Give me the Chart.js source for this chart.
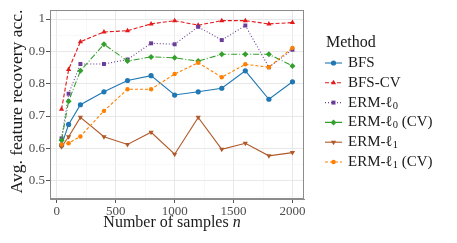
<!DOCTYPE html>
<html>
<head>
<meta charset="utf-8">
<script src="https://cdn.jsdelivr.net/npm/chart.js@4.4.1/dist/chart.umd.min.js"></script>
<style>
html,body{margin:0;padding:0;background:#fff;}
#wrap{width:457px;height:243px;position:relative;}
</style>
</head>
<body>
<div id="wrap"><canvas id="c" width="457" height="243"></canvas></div>
<script>
const sampleSizes = [40, 100, 200, 400, 600, 800, 1000, 1200, 1400, 1600, 1800, 2000];
const bfs      = [0.610, 0.674, 0.735, 0.775, 0.810, 0.825, 0.765, 0.775, 0.786, 0.840, 0.752, 0.806];
const bfsCV    = [0.721, 0.844, 0.930, 0.960, 0.964, 0.985, 0.995, 0.981, 0.995, 0.995, 0.985, 0.989];
const erm0     = [0.631, 0.769, 0.861, 0.861, 0.875, 0.925, 0.922, 0.976, 0.935, 0.980, 0.851, 0.905];
const erm0CV   = [0.625, 0.746, 0.840, 0.922, 0.870, 0.883, 0.880, 0.870, 0.891, 0.891, 0.891, 0.855];
const erm1     = [0.605, 0.636, 0.696, 0.636, 0.612, 0.650, 0.582, 0.696, 0.597, 0.616, 0.577, 0.587];
const erm1CV   = [0.612, 0.616, 0.637, 0.716, 0.783, 0.783, 0.830, 0.865, 0.820, 0.860, 0.851, 0.911];
const seriesNames = ['BFS', 'BFS-CV', 'ERM-ℓ0', 'ERM-ℓ0 (CV)', 'ERM-ℓ1', 'ERM-ℓ1 (CV)'];
const legendTitle = 'Method';
const xTitle = 'Number of samples';
const xTitleVar = 'n';
const yTitle = 'Avg. feature recovery acc.';
const yMajorTicks = [0.5, 0.6, 0.7, 0.8, 0.9, 1.0];
const yMinorTicks = [0.45, 0.55, 0.65, 0.75, 0.85, 0.95];
const xMajorTicks = [0, 500, 1000, 1500, 2000];
const xMinorTicks = [250, 750, 1250, 1750];

const seriesValues = [bfs, bfsCV, erm0, erm0CV, erm1, erm1CV];
const styles = [
  {color:'#1f78b4', dash:[], point:'circle', radius:2.6, rot:0},
  {color:'#e31a1c', dash:[4,2], point:'triangle', radius:3, rot:0},
  {color:'#6a3d9a', dash:[1,2], point:'rect', radius:2.8, rot:0},
  {color:'#33a02c', dash:[6,2,1,2], point:'rectRot', radius:3, rot:0},
  {color:'#b15928', dash:[], point:'triangle', radius:3, rot:180},
  {color:'#ff7f00', dash:[3,2], point:'circle', radius:2.2, rot:0}
];
const SERIF = '"Liberation Serif", "DejaVu Serif", serif';

const datasets = seriesValues.map((vals, i) => ({
  label: seriesNames[i],
  data: sampleSizes.map((n, j) => ({x: n, y: vals[j]})),
  borderColor: styles[i].color,
  backgroundColor: styles[i].color,
  borderWidth: 1.1,
  borderDash: styles[i].dash,
  pointStyle: styles[i].point,
  pointRadius: styles[i].radius,
  pointRotation: styles[i].rot,
  pointBorderWidth: 0,
  pointHoverRadius: styles[i].radius,
  tension: 0,
  order: seriesValues.length - i
}));

function isMinor(list, v){ return list.some(m => Math.abs(m - v) < 1e-9); }

function drawLabel(ctx, text, x, y, size){
  ctx.textBaseline = 'middle';
  ctx.textAlign = 'left';
  let cx = x;
  const parts = [];
  const m = text.match(/^(.*ℓ)(\d)(.*)$/);
  if (m){ parts.push([m[1], false]); parts.push([m[2], true]); parts.push([m[3], false]); }
  else parts.push([text, false]);
  for (const [t, sub] of parts){
    if (!t) continue;
    ctx.font = (sub ? size*0.7 : size) + 'px ' + SERIF;
    ctx.fillText(t, cx, sub ? y + size*0.22 : y);
    cx += ctx.measureText(t).width;
  }
}

const decor = {
  id: 'decor',
  afterDraw(chart){
    const ctx = chart.ctx;
    const a = chart.chartArea;
    ctx.save();
    ctx.strokeStyle = '#8c8c8c';
    ctx.lineWidth = 1;
    ctx.setLineDash([]);
    ctx.strokeRect(a.left + 0.5, a.top + 0.5, a.right - a.left - 1, a.bottom - a.top - 1);
    // x title
    ctx.fillStyle = '#1a1a1a';
    ctx.textBaseline = 'alphabetic';
    const fs = 16;
    ctx.font = fs + 'px ' + SERIF;
    const w1 = ctx.measureText(xTitle + ' ').width;
    ctx.font = 'italic ' + fs + 'px ' + SERIF;
    const w2 = ctx.measureText(xTitleVar).width;
    const cxm = (a.left + a.right) / 2 - 5;
    let sx = cxm - (w1 + w2) / 2;
    ctx.textAlign = 'left';
    ctx.font = fs + 'px ' + SERIF;
    ctx.fillText(xTitle + ' ', sx, 227);
    ctx.font = 'italic ' + fs + 'px ' + SERIF;
    ctx.fillText(xTitleVar, sx + w1, 227);
    // y title
    ctx.save();
    ctx.translate(22, (a.top + a.bottom) / 2 - 3);
    ctx.rotate(-Math.PI / 2);
    ctx.textAlign = 'center';
    ctx.font = '17.5px ' + SERIF;
    ctx.fillText(yTitle, 0, 0);
    ctx.restore();
    // legend
    ctx.font = '16px ' + SERIF;
    ctx.textAlign = 'left';
    ctx.textBaseline = 'middle';
    ctx.fillText(legendTitle, 326, 43);
    chart.data.datasets.forEach((ds, i) => {
      const y = 63 + i * 19.8;
      ctx.save();
      ctx.strokeStyle = ds.borderColor;
      ctx.lineWidth = 1.1;
      ctx.setLineDash(ds.borderDash);
      ctx.beginPath();
      ctx.moveTo(325, y);
      ctx.lineTo(342, y);
      ctx.stroke();
      ctx.setLineDash([]);
      ctx.fillStyle = ds.backgroundColor;
      ctx.strokeStyle = ds.borderColor;
      Chart.helpers.drawPoint(ctx, {pointStyle: ds.pointStyle, rotation: ds.pointRotation, radius: ds.pointRadius, borderWidth: 0}, 333.5, y);
      ctx.restore();
      ctx.fillStyle = '#1a1a1a';
      drawLabel(ctx, ds.label, 348, y, 15);
    });
    ctx.restore();
  }
};

new Chart(document.getElementById('c'), {
  type: 'line',
  data: { datasets },
  options: {
    responsive: false,
    animation: false,
    devicePixelRatio: 1,
    layout: { padding: { left: 0, right: 153, top: 10, bottom: 0 } },
    plugins: { legend: { display: false }, tooltip: { enabled: false } },
    scales: {
      x: {
        type: 'linear',
        min: -58,
        max: 2098,
        afterFit(s){ s.height = 44; },
        afterBuildTicks(s){
          s.ticks = xMajorTicks.concat(xMinorTicks).sort((p,q)=>p-q).map(v => ({value: v}));
        },
        ticks: {
          autoSkip: false, maxRotation: 0, padding: 1,
          color: '#4d4d4d',
          font: { family: SERIF, size: 13 },
          callback(v){ return isMinor(xMinorTicks, v) ? '' : String(v); }
        },
        grid: {
          color: c => isMinor(xMinorTicks, c.tick.value) ? '#f3f3f3' : '#e8e8e8',
          lineWidth: c => isMinor(xMinorTicks, c.tick.value) ? 0.6 : 1,
          tickColor: c => isMinor(xMinorTicks, c.tick.value) ? 'rgba(0,0,0,0)' : '#555',
          tickLength: 4
        },
        border: { display: true, color: '#8c8c8c', width: 1 }
      },
      y: {
        type: 'linear',
        min: 0.4435,
        max: 1.028,
        afterFit(s){ s.width = 50; },
        afterBuildTicks(s){
          s.ticks = yMajorTicks.concat(yMinorTicks).sort((p,q)=>p-q).map(v => ({value: v}));
        },
        ticks: {
          autoSkip: false, padding: 1,
          color: '#4d4d4d',
          font: { family: SERIF, size: 13 },
          callback(v){ return isMinor(yMinorTicks, v) ? '' : (Math.abs(v-1)<1e-9 ? '1' : v.toFixed(1)); }
        },
        grid: {
          color: c => isMinor(yMinorTicks, c.tick.value) ? '#f3f3f3' : '#e8e8e8',
          lineWidth: c => isMinor(yMinorTicks, c.tick.value) ? 0.6 : 1,
          tickColor: c => isMinor(yMinorTicks, c.tick.value) ? 'rgba(0,0,0,0)' : '#555',
          tickLength: 4
        },
        border: { display: true, color: '#8c8c8c', width: 1 }
      }
    }
  },
  plugins: [decor]
});
</script>
</body>
</html>
